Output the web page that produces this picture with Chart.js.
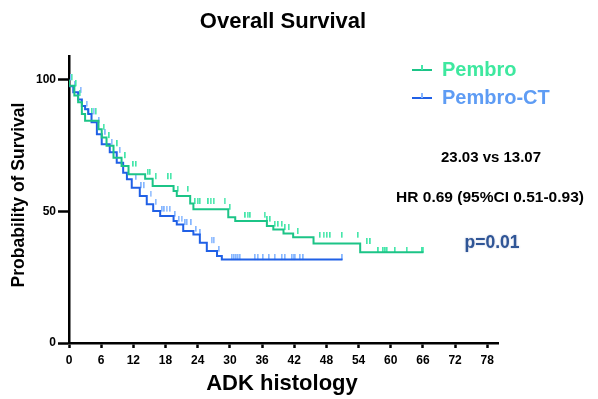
<!DOCTYPE html>
<html>
<head>
<meta charset="utf-8">
<script src="https://cdn.jsdelivr.net/npm/chart.js@4.4.0/dist/chart.umd.min.js"></script>
<style>
  html, body { margin: 0; padding: 0; background: #fff; }
  #wrap { width: 598px; height: 399px; }
</style>
</head>
<body>
<div id="wrap"><canvas id="mycanvas" width="598" height="399"></canvas></div>
<script>
// Kaplan-Meier steps (months, % surviving)
var pembroT = [0, 1, 1.7, 2.4, 3, 5.5, 6.1, 7, 8.3, 9.8, 11.1, 14.2, 15.6, 19.5, 20.1, 22.6, 23.2, 29.7, 31, 36.9, 38.1, 40, 41.8, 45.6, 54.3, 56.8, 66.1];
var pembroS = [100, 97.7, 94, 91.4, 87, 84.4, 81.2, 78, 74.9, 70.4, 67.2, 64.1, 62.4, 59.6, 57.7, 55.8, 53, 50.8, 47.8, 46.3, 44.4, 43.1, 41.6, 40.2, 37.8, 34.5, 34.5];
var pembroCens = [0.5, 1.3, 2, 3.5, 4.3, 5, 6.5, 7.5, 9, 10.5, 12, 12.5, 14.7, 15.1, 16.2, 18.5, 19, 20.3, 22.2, 23.5, 24, 24.4, 26, 26.4, 27, 29, 30, 32.9, 33.3, 33.8, 36.5, 37, 37.5, 38.4, 39, 39.7, 40.3, 41, 42.7, 46.8, 47.5, 48.1, 48.7, 50.9, 53.9, 55.6, 56.2, 57.7, 58.6, 59, 59.3, 60.8, 63, 65.9, 66.1];

var ctT = [0, 0.8, 1.7, 2.4, 3, 3.6, 4.2, 5.2, 6.1, 7.6, 8.9, 10.1, 10.8, 11.7, 13.2, 14.5, 15.7, 17, 19.5, 20.1, 21.3, 23.2, 24.4, 25.7, 27.6, 28.5, 29.1, 51];
var ctS = [100, 97.5, 95.2, 92.5, 90, 88.8, 87, 83.8, 79.3, 75.5, 72.4, 68.5, 64.7, 62.2, 59, 55.8, 52.7, 50.1, 48.2, 46.3, 45, 42.5, 41.2, 38.1, 34.9, 33, 31.7, 31.7];
var ctCens = [0.4, 1.2, 2.2, 3.3, 4.6, 5.6, 6.8, 8, 9.5, 12.5, 13.5, 14, 15.2, 16.2, 17.4, 17.8, 18.2, 18.8, 19.8, 20.5, 21, 21.7, 22, 22.8, 23.7, 24.5, 26.6, 27, 28, 30.4, 30.8, 31.2, 31.5, 31.9, 34.7, 35.2, 36.2, 37.3, 38.4, 39.7, 40.3, 41.6, 41.9, 42.2, 43.1, 43.7, 51];

var seriesNames = ['Pembro', 'Pembro-CT'];
var xTicks = [0, 6, 12, 18, 24, 30, 36, 42, 48, 54, 60, 66, 72, 78];
var yLabels = [0, 50, 100];

var greenLine = '#1cc487', greenTick = '#45e6aa', greenText = '#3ee89f';
var blueLine = '#2060e6', blueTick = '#86b6ff', blueText = '#5e9cf4';

function steps(t, s) {
  var out = [];
  for (var i = 0; i < t.length; i++) out.push({x: t[i], y: s[i]});
  return out;
}
function survAt(t, s, x) {
  var v = s[0];
  for (var i = 0; i < t.length; i++) { if (t[i] <= x) v = s[i]; }
  return v;
}
function cens(t, s, c) {
  var out = [];
  for (var i = 0; i < c.length; i++) out.push({x: c[i], y: survAt(t, s, c[i])});
  return out;
}
function tickMark(color) {
  var cv = document.createElement('canvas');
  cv.width = 2; cv.height = 11;
  var g = cv.getContext('2d');
  g.fillStyle = color;
  g.fillRect(0, 0, 1.6, 6);
  return cv;
}

var textPlugin = {
  id: 'texts',
  afterDraw: function(chart) {
    var c = chart.ctx;
    c.save();
    c.fillStyle = '#000';
    c.textAlign = 'center';
    c.textBaseline = 'middle';
    c.font = 'bold 22px "Liberation Sans", Arial, sans-serif';
    c.fillText('Overall Survival', 283, 22);
    c.fillText('ADK histology', 282, 384);

    c.save();
    c.translate(19, 195);
    c.rotate(-Math.PI / 2);
    c.font = 'bold 17.5px "Liberation Sans", Arial, sans-serif';
    c.fillText('Probability of Survival', 0, 0);
    c.restore();

    c.font = 'bold 15px "Liberation Sans", Arial, sans-serif';
    c.fillText('23.03 vs 13.07', 491, 158);
    c.font = 'bold 15.5px "Liberation Sans", Arial, sans-serif';
    c.fillText('HR 0.69 (95%CI 0.51-0.93)', 490, 198);

    c.save();
    c.shadowColor = 'rgba(40,70,140,0.35)';
    c.shadowBlur = 2;
    c.fillStyle = '#2f5596';
    c.font = 'bold 17.5px "Liberation Sans", Arial, sans-serif';
    c.fillText('p=0.01', 492, 243);
    c.restore();

    // legend
    var items = [
      {name: seriesNames[0], line: greenLine, tick: greenTick, text: greenText, y: 70},
      {name: seriesNames[1], line: blueLine, tick: blueTick, text: blueText, y: 98}
    ];
    c.textAlign = 'left';
    c.font = 'bold 20px "Liberation Sans", Arial, sans-serif';
    items.forEach(function(it) {
      c.strokeStyle = it.line;
      c.lineWidth = 2;
      c.beginPath(); c.moveTo(412, it.y); c.lineTo(432, it.y); c.stroke();
      c.strokeStyle = it.tick;
      c.beginPath(); c.moveTo(422, it.y); c.lineTo(422, it.y - 5); c.stroke();
      c.fillStyle = it.text;
      c.fillText(it.name, 442, it.y);
    });
    c.restore();
  }
};

var ctx = document.getElementById('mycanvas');
var chart = new Chart(ctx, {
  type: 'line',
  data: {
    datasets: [
      {
        label: seriesNames[0],
        data: steps(pembroT, pembroS),
        borderColor: greenLine,
        borderWidth: 2,
        stepped: 'after',
        pointRadius: 0,
        fill: false
      },
      {
        label: seriesNames[1],
        data: steps(ctT, ctS),
        borderColor: blueLine,
        borderWidth: 2,
        stepped: 'after',
        pointRadius: 0,
        fill: false
      },
      {
        label: seriesNames[0] + ' censored',
        data: cens(pembroT, pembroS, pembroCens),
        showLine: false,
        pointStyle: tickMark(greenTick),
        pointRadius: 6
      },
      {
        label: seriesNames[1] + ' censored',
        data: cens(ctT, ctS, ctCens),
        showLine: false,
        pointStyle: tickMark(blueTick),
        pointRadius: 6
      }
    ]
  },
  options: {
    responsive: false,
    animation: false,
    layout: { padding: { left: 0, top: 56, right: 100, bottom: 0 } },
    plugins: { legend: { display: false }, title: { display: false }, tooltip: { enabled: false } },
    scales: {
      x: {
        type: 'linear',
        min: 0,
        max: 80,
        afterFit: function(s) { s.height = 56; },
        afterBuildTicks: function(s) {
          s.ticks = xTicks.map(function(v) { return {value: v}; });
        },
        border: { color: '#000', width: 2.5 },
        grid: { drawOnChartArea: false, tickLength: 5, tickColor: '#000', tickWidth: 2.5 },
        ticks: {
          color: '#000',
          padding: 5,
          maxRotation: 0,
          font: { family: '"Liberation Sans", Arial, sans-serif', size: 12, weight: 'bold' }
        }
      },
      y: {
        type: 'linear',
        min: 0,
        max: 109,
        weight: 0,
        afterFit: function(s) { s.width = 69; },
        afterBuildTicks: function(s) {
          s.ticks = yLabels.map(function(v) { return {value: v}; });
        },
        border: { color: '#000', width: 2.5 },
        grid: { drawOnChartArea: false, tickLength: 11, tickColor: '#000', tickWidth: 2.5 },
        ticks: {
          color: '#000',
          padding: 2,
          font: { family: '"Liberation Sans", Arial, sans-serif', size: 12, weight: 'bold' }
        }
      },
      yMinor: {
        type: 'linear',
        position: 'left',
        min: 0,
        max: 109,
        weight: 1,
        afterFit: function(s) { s.width = 0; },
        border: { display: false },
        grid: { drawOnChartArea: false, tickLength: 4, tickColor: '#000', tickWidth: 2 },
        ticks: { stepSize: 5, display: false }
      }
    }
  },
  plugins: [textPlugin]
});
</script>
</body>
</html>
